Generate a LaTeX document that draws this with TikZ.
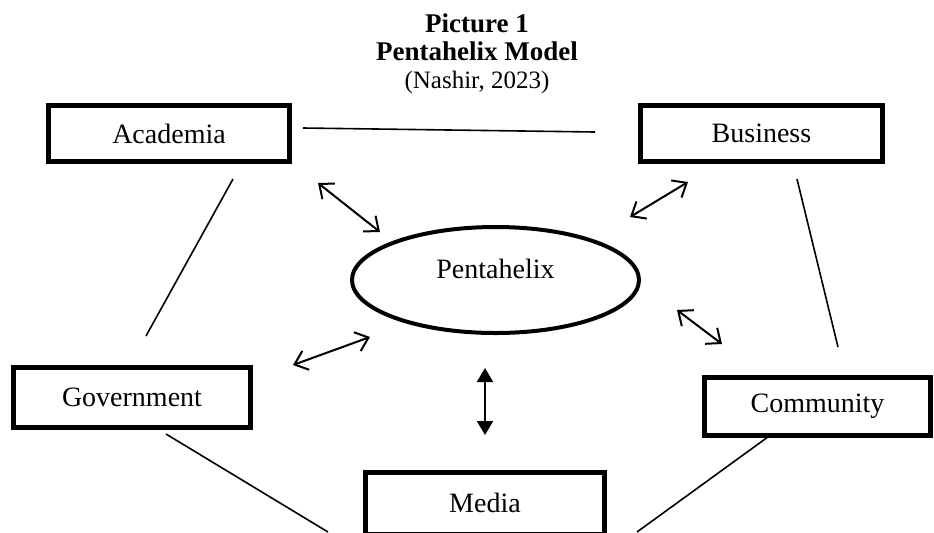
\documentclass[tikz,border=0pt]{standalone}
\usepackage{fontspec}
\setmainfont{Liberation Serif}
\usetikzlibrary{arrows.meta,shapes.geometric}
\tikzset{
  actor/.style={draw,line width=2.5pt,minimum width=#1,minimum height=29pt,inner sep=0pt,
    font=\fontsize{14}{16}\selectfont},
  actor/.default=120pt,
  hub/.style={ellipse,draw,line width=2pt,minimum width=143.5pt,minimum height=53pt,inner sep=0pt,
    text height=10pt,text depth=12pt,font=\fontsize{14}{16}\selectfont},
  tie/.style={line width=0.8pt},
  link/.style={{Straight Barb[length=6pt,width=10pt]}-{Straight Barb[length=6pt,width=10pt]},line width=1pt},
  push/.style={{Triangle[length=7pt,width=8pt]}-{Triangle[length=7pt,width=8pt]},line width=1pt},
}
\begin{document}
\begin{tikzpicture}[x=0.5pt,y=-0.5pt]
  \useasboundingbox (0,0) rectangle (934,532);
  \node[align=center,font=\fontsize{13.5}{14}\selectfont] (title) at (477,54)
    {\textbf{Picture 1}\\\textbf{Pentahelix Model}\\{\fontsize{12.5}{14}\selectfont(Nashir, 2023)}};
  % actors
  \node[actor=120.5pt,minimum height=28pt] (acad) at (169,133.5) {Academia};
  \node[actor=121pt,minimum height=28pt] (busi) at (761.5,133.5) {Business};
  \node[actor=118.5pt,minimum height=30pt] (gov) at (132,397.5) {Government};
  \node[actor=113pt,minimum height=29pt] (comm) at (817.5,406.5) {Community};
  \node[actor=119.5pt,minimum height=31pt] (media) at (485,503) {Media};
  \node[hub] (penta) at (495.5,280) {Pentahelix};
  % loose ends of the connectors
  \coordinate (ab1) at (303,128);  \coordinate (ab2) at (595,132);
  \coordinate (ag1) at (233,179);  \coordinate (ag2) at (146,336);
  \coordinate (bc1) at (797,179);  \coordinate (bc2) at (838,347);
  \coordinate (gm1) at (166,434);  \coordinate (gm2) at (328,532);
  \coordinate (cm1) at (772,434);  \coordinate (cm2) at (637,532);
  \coordinate (pa1) at (318,183);  \coordinate (pa2) at (380,232);
  \coordinate (pb1) at (688,182);  \coordinate (pb2) at (630,217);
  \coordinate (pg1) at (293,365);  \coordinate (pg2) at (370,337);
  \coordinate (pc1) at (722,344);  \coordinate (pc2) at (677,310);
  \coordinate (pm1) at (485,435);  \coordinate (pm2) at (485,368);
  \draw[tie] (ab1) -- (ab2);
  \draw[tie] (ag1) -- (ag2);
  \draw[tie] (bc1) -- (bc2);
  \draw[tie] (gm1) -- (gm2);
  \draw[tie] (cm1) -- (cm2);
  \draw[link] (pa1) -- (pa2);
  \draw[link] (pb1) -- (pb2);
  \draw[link] (pg1) -- (pg2);
  \draw[link] (pc1) -- (pc2);
  \draw[push] (pm1) -- (pm2);
\end{tikzpicture}
\end{document}
